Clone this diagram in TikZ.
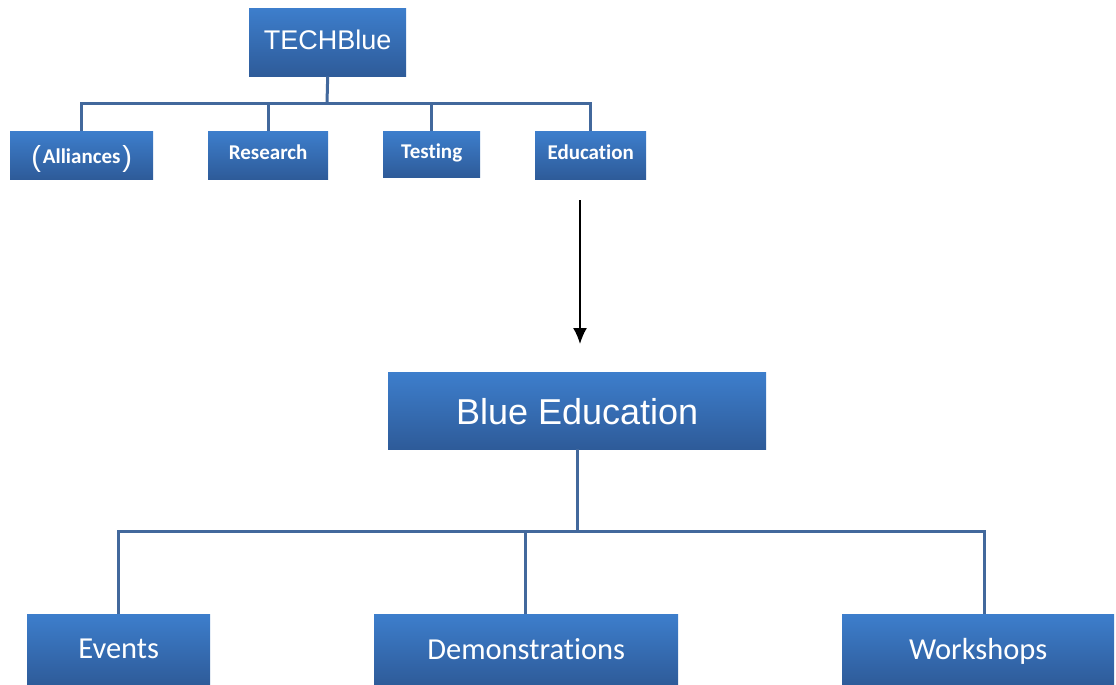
\documentclass[tikz,border=0pt]{standalone}
\usepackage{fontspec}
\usetikzlibrary{arrows.meta}
\setmainfont{Carlito}[Ligatures={NoCommon}]
\newfontfamily\arialf{Liberation Sans}
\definecolor{boxtop}{RGB}{61,126,204}
\definecolor{boxbot}{RGB}{46,91,153}
\definecolor{linkc}{RGB}{66,104,156}
\tikzset{
  orgbox/.style={draw=none, top color=boxtop, bottom color=boxbot, text=white, inner sep=0pt, anchor=north west},
  smallbox/.style={orgbox, minimum height=48pt, text height=14pt, text depth=5pt, font=\fontsize{21}{24}\selectfont\bfseries},
  bigbox/.style={orgbox, minimum height=71pt, text height=20pt, text depth=0pt, font=\fontsize{30.5}{34}\selectfont},
  link/.style={draw=linkc, line width=3pt},
}
\begin{document}
\begin{tikzpicture}[x=1pt,y=-1pt]
\useasboundingbox (0,0) rectangle (1116,685);
% top level
\node[orgbox, minimum width=157pt, minimum height=68pt, text height=17pt, text depth=0pt] (tech) at (249,8) {\raisebox{1.5pt}{\arialf\fontsize{27}{30}\selectfont TECHBlue}};
\node[smallbox, minimum width=143pt] (all) at (10,131) {\raisebox{-3.5pt}{\raisebox{-3pt}{\mdseries\arialf\fontsize{29}{30}\selectfont(}\hspace{2pt}Alliances\hspace{2pt}\raisebox{-3pt}{\mdseries\arialf\fontsize{29}{30}\selectfont)}}};
\node[smallbox, minimum width=120pt] (res) at (208,131) {Research};
\node[smallbox, minimum width=97pt, minimum height=46pt] (test) at (383,131) {Testing};
\node[smallbox, minimum width=111pt] (edu) at (535,131) {Education};
\coordinate (tj) at (327,103);
\draw[link] (tech.south) -- (tj);
\draw[link] (all.north) |- (tj) -| (edu.north);
\draw[link] (res.north) -- (res.north |- tj);
\draw[link] (test.north) -- (test.north |- tj);
% arrow
\coordinate (a1) at (580,200);
\coordinate (a2) at (580,344);
\draw[line width=1.8pt, -{Latex[length=16pt,width=14pt]}] (a1) -- (a2);
% second level
\node[orgbox, minimum width=378pt, minimum height=77pt, text height=27pt, text depth=0pt] (be) at (388,372) {\arialf\fontsize{36}{40}\selectfont Blue Education};
\node[bigbox, minimum width=183pt] (ev) at (27,614) {\raisebox{1pt}{Events}};
\node[bigbox, minimum width=304pt] (dem) at (374,614) {Demonstrations};
\node[bigbox, minimum width=272pt] (ws) at (842,614) {Workshops};
\coordinate (bj) at (577,531);
\draw[link] (be.south -| bj) -- (bj);
\draw[link] (ev.north) |- (bj) -| ([xshift=6pt]ws.north);
\draw[link] ([xshift=-1pt]dem.north) -- ([xshift=-1pt]dem.north |- bj);
\end{tikzpicture}
\end{document}
